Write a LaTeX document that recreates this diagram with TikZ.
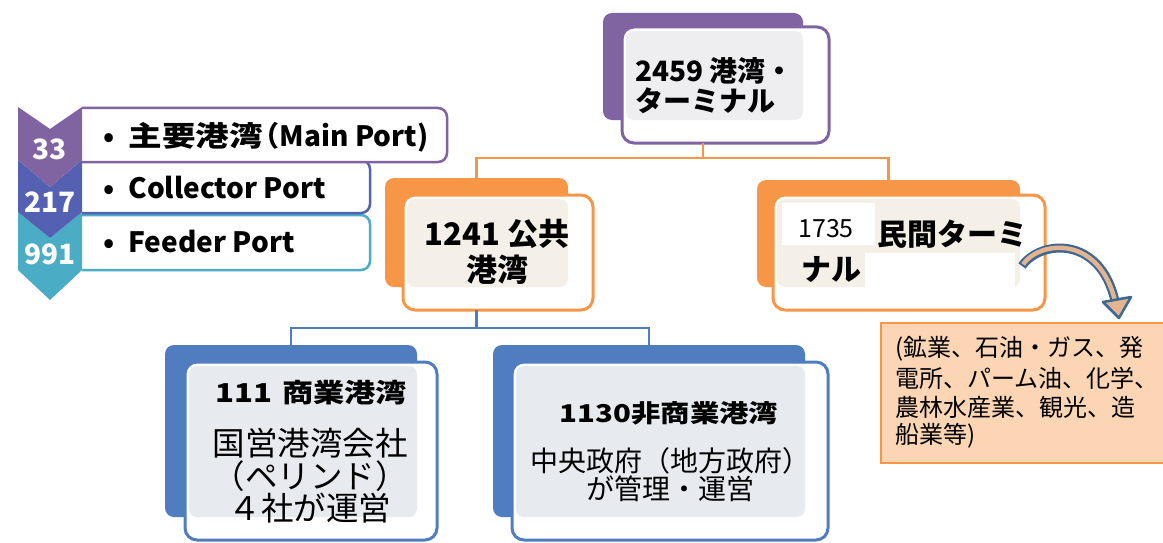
\documentclass[tikz,border=0pt]{standalone}
\usepackage{fontspec}
\setmainfont{Noto Sans CJK JP}
\newfontfamily\wide[FakeStretch=1.2]{Noto Sans CJK JP}
\usetikzlibrary{fit}
\definecolor{cpur}{HTML}{8064A2}
\definecolor{cind}{HTML}{5460B2}
\definecolor{cteal}{HTML}{4BACC6}
\definecolor{corg}{HTML}{F79646}
\definecolor{cblu}{HTML}{4F7DBF}
\definecolor{cpeach}{HTML}{FCD5B5}
\definecolor{tgray}{HTML}{EEEEF1}
\definecolor{torg}{HTML}{F4EFE7}
\definecolor{tblu}{HTML}{E7EBF0}
\definecolor{arrb}{HTML}{3D6896}
\definecolor{arrf}{HTML}{E3B48D}
\tikzset{
  box/.style={inner sep=0pt, outer sep=0pt},
  backbox/.style={box, fill=#1, rounded corners=9pt},
  frontbox/.style={box, fill=white, draw=#1, line width=3pt, rounded corners=12pt},
  tintbox/.style={box, fill=#1, rounded corners=8pt},
  conn/.style={draw=#1, line width=2.5pt},
  listbox/.style={draw=#1, line width=2.5pt, fill=white, rounded corners=9pt},
  chev/.style={fill=#1},
  numtxt/.style={text=white, font=\bfseries\fontsize{28}{30}\selectfont, inner sep=0pt},
  listtxt/.style={font=\bfseries\fontsize{28}{30}\selectfont, inner sep=0pt, anchor=west},
  ttl/.style={font=\bfseries\fontsize{#1}{#1}\selectfont, inner sep=0pt},
  wttl/.style={font=\wide\bfseries\fontsize{#1}{#1}\selectfont, inner sep=0pt},
  reg/.style={font=\fontsize{#1}{#1}\selectfont, inner sep=0pt},
}
\begin{document}
\begin{tikzpicture}[x=1pt,y=-1pt]
\useasboundingbox (0,0) rectangle (1163,543);
\clip (0,0) rectangle (1163,543);
\fill[white] (0,0) rectangle (1163,543);

% ---------- left chevron list ----------
\draw[listbox=cteal] (82,215) -- (370,215) -- (370,270) -- (82,270);
\draw[listbox=cind] (82,160) -- (370,160) -- (370,213) -- (82,213);
\draw[listbox=cpur] (82,108) -- (447,108) -- (447,162) -- (82,162);
\fill[chev=cteal] (18,212) -- (50,238) -- (82,212) -- (82,270) -- (50,300) -- (18,270) -- cycle;
\fill[chev=cind] (18,160) -- (50,187) -- (82,160) -- (82,212) -- (50,238) -- (18,212) -- cycle;
\fill[chev=cpur] (18,107) -- (50,129) -- (82,107) -- (82,160) -- (50,187) -- (18,160) -- cycle;
\node[numtxt] (n33) at (50,149) {33};
\node[numtxt] (n217) at (50,202) {217};
\node[numtxt] (n991) at (50,254) {991};
\node[listtxt] (l1) at (103,137) {•\hspace{14pt}{\wide 主要港湾}\hspace{-11pt}（Main Port)};
\node[listtxt] (l2) at (103,188) {•\hspace{14pt}Collector Port};
\node[listtxt] (l3) at (103,242) {•\hspace{14pt}Feeder Port};

% ---------- top box ----------
\node[backbox=cpur, fit={(603,13) (803,120)}] (topb) {};
\node[frontbox=cpur, fit={(622,27) (829,143)}] (topf) {};
\node[tintbox=tgray, fit={(626,31) (803,120)}] (topt) {};
\node[ttl=28, align=left, anchor=west] (toptxt) at (635,86) {2459 港湾・\\[2pt]ターミナル};

% ---------- public ports ----------
\node[backbox=corg, fit={(385,178) (568,287)}] (pubb) {};
\node[frontbox=corg, fit={(403,195) (593,310)}] (pubf) {};
\node[tintbox=torg, fit={(407,199) (568,287)}] (pubt) {};
\node[ttl=31, align=center] (pubtxt) at (497,252) {1241 公共\\[5pt]港湾};

% ---------- private terminals ----------
\node[backbox=corg, fit={(757,180) (1020,287)}] (privb) {};
\node[frontbox=corg, fit={(773,195) (1045,310)}] (privf) {};
\node[tintbox=torg, fit={(777,199) (1020,287)}] (privt) {};
\node[box, fill=white, fit={(782,203) (875,245)}] (w1) {};
\node[box, fill=white, fit={(865,253) (1015,288)}] (w2) {};
\node[reg=25] (n1735) at (826,229) {1735};
\node[ttl=30, anchor=west] (privtxt1) at (877,234) {民間ターミ};
\node[ttl=30, anchor=west] (privtxt2) at (801,269) {ナル};

% ---------- commercial ports ----------
\node[backbox=cblu, fit={(165,345) (417,517)}] (commb) {};
\node[frontbox=cblu, fit={(185,362) (437,540)}] (commf) {};
\node[tintbox=tblu, fit={(189,366) (417,517)}] (commt) {};
\node[wttl=26] (commtt) at (311,393) {111\hspace{3pt} 商業港湾};
\node[reg=32.5, align=center] (commtx) at (310,476) {国営港湾会社\\[0pt]（ペリンド）\\[0pt]４社が運営};

% ---------- non-commercial ports ----------
\node[backbox=cblu, fit={(493,345) (805,517)}] (ncommb) {};
\node[frontbox=cblu, fit={(512,362) (828,540)}] (ncommf) {};
\node[tintbox=tblu, fit={(516,366) (805,517)}] (ncommt) {};
\node[wttl=24.5] (ncommtt) at (669,413) {1130非商業港湾};
\node[reg=28, align=center] (ncommtx) at (670,475) {中央政府（地方政府）\\が管理・運営};

% ---------- connectors ----------
\draw[conn=corg] (topb.south |- topf.south) -- ++(0,15) coordinate (obus);
\draw[conn=corg] (pubb.north) |- (obus) -| (privb.north);
\draw[conn=cblu] (pubb.south |- pubf.south) -- ++(0,18) coordinate (bbus);
\draw[conn=cblu] (commb.north) |- (bbus) -| (ncommb.north);

% ---------- industries box ----------
\node[box, fill=cpeach, draw=corg, line width=1.5pt, fit={(881,323) (1175,463)}] (ind) {};
\node[reg=24, anchor=north west, align=left] (indtxt) at (895,336)
  {(鉱業、石油・ガス、発\\[5pt]電所、パーム油、化学、\\[5pt]農林水産業、観光、造\\[3pt]船業等)};

% ---------- curved arrow ----------
\coordinate (arrS) at (1022,266);
\coordinate (arrE) at (1115,301);
\draw[arrb, line width=9pt] (arrS) .. controls (1040,240) and (1100,235) .. (arrE);
\draw[arrf, line width=4.5pt, shorten <=2pt, shorten >=-1pt] (arrS) .. controls (1040,240) and (1100,235) .. (arrE);
\filldraw[fill=arrf, draw=arrb, line width=2.5pt, line join=round] (1103,302) -- (1131,297) -- (1119,318) -- cycle;
\end{tikzpicture}
\end{document}
